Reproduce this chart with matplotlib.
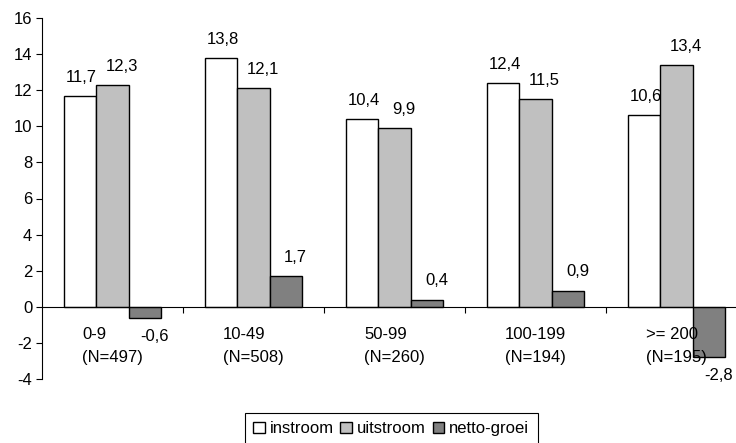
import numpy as np
import matplotlib.pyplot as plt

plt.rcParams['font.family'] = ['Liberation Sans', 'DejaVu Sans']
plt.rcParams['font.size'] = 12
plt.rcParams['axes.unicode_minus'] = False

categories = ["0-9\n(N=497)", "10-49\n(N=508)", "50-99\n(N=260)",
              "100-199\n(N=194)", ">= 200\n(N=195)"]
instroom = [11.7, 13.8, 10.4, 12.4, 10.6]
uitstroom = [12.3, 12.1, 9.9, 11.5, 13.4]
netto_groei = [-0.6, 1.7, 0.4, 0.9, -2.8]

series = [("instroom", instroom, "white"),
          ("uitstroom", uitstroom, "#c0c0c0"),
          ("netto-groei", netto_groei, "#808080")]
# horizontal nudge (points) for the value labels of each series
label_dx = [0.7, 6.5, 7.2]

fig = plt.figure(figsize=(7.36, 4.43), dpi=100)
ax = fig.add_axes([42 / 736, 1 - 379 / 443, 705 / 736, 361 / 443])

x = np.arange(len(categories))
w = 0.227
for k, (name, vals, col) in enumerate(series):
    pos = x + (k - 1) * w
    ax.bar(pos, vals, width=w, color=col, edgecolor="black", linewidth=1.0,
           label=name, zorder=1)
    for xi, v in zip(pos, vals):
        txt = f"{v:.1f}".replace(".", ",")
        if v >= 0:
            ax.annotate(txt, (xi, v), xytext=(label_dx[k], 8), textcoords="offset points",
                        ha="center", va="bottom")
        else:
            ax.annotate(txt, (xi, v), xytext=(label_dx[k], -8), textcoords="offset points",
                        ha="center", va="top")

ax.set_xlim(-0.5, len(categories) - 0.5)
ax.set_ylim(-4, 16)
ax.set_yticks(np.arange(-4, 17, 2))
ax.tick_params(axis="y", direction="out", length=4, width=0.8, pad=3, labelsize=12)

# category axis crosses at zero
for s in ["top", "right"]:
    ax.spines[s].set_visible(False)
ax.spines["bottom"].set_position(("data", 0))
ax.spines["bottom"].set_linewidth(0.8)
ax.spines["left"].set_linewidth(0.8)
ax.set_xticks(x[:-1] + 0.5)
ax.set_xticklabels([])
ax.tick_params(axis="x", which="major", direction="out", length=4, width=0.8)
ax.set_xticks(x, minor=True)
ax.set_xticklabels(categories, minor=True)
ax.tick_params(axis="x", which="minor", length=0, pad=14.5, labelsize=12)
for lab in ax.get_xticklabels(minor=True):
    lab.set_multialignment("left")
    lab.set_linespacing(1.65)

ax.legend(loc="upper center", bbox_to_anchor=(391 / 736, 1 - 413 / 443),
          bbox_transform=fig.transFigure, borderaxespad=0, ncol=3, frameon=True,
          fancybox=False, edgecolor="black", framealpha=1, handlelength=0.7,
          handleheight=0.7, handletextpad=0.3, columnspacing=0.4, borderpad=0.5,
          fontsize=12)
ax.get_legend().get_frame().set_linewidth(0.8)

fig.savefig("out.png", dpi=100)
